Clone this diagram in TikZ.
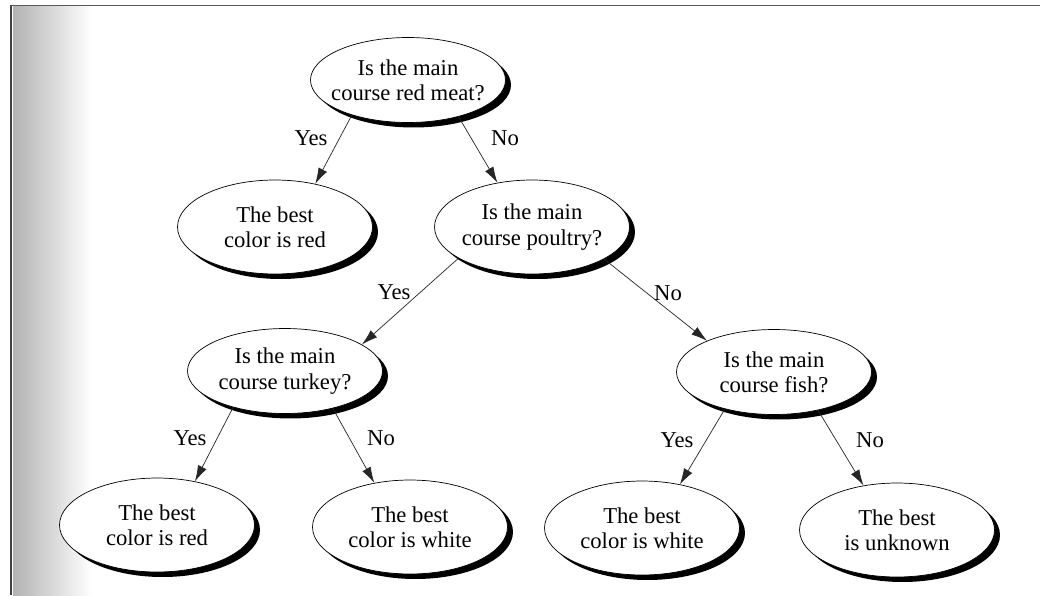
\documentclass[tikz,border=0pt]{standalone}
\usepackage{fontspec}
\setmainfont{Liberation Serif}
\usetikzlibrary{shapes.geometric,shadows,arrows.meta}

\begin{document}
\begin{tikzpicture}[x=0.02cm,y=-0.02cm,
  choice/.style={ellipse,draw,thin,fill=white,inner xsep=-0.2cm,inner ysep=0pt,
    minimum width=3.9cm,minimum height=1.88cm,align=center,
    font=\fontsize{12.9}{14.4}\selectfont,
    drop shadow={shadow xshift=0.11cm,shadow yshift=-0.1cm,fill=black,opacity=1}},
  flat/.style={minimum height=1.7cm},
  arr/.style={-{Latex[length=3.2mm,width=1.9mm]},black!85,thin},
  lbl/.style={font=\fontsize{12.9}{14.4}\selectfont}]
 \useasboundingbox (0,0) rectangle (1040,595);
 % scanned page edge
 \fill[white] (0,0) rectangle (1040,595);
 \shade[left color=gray!60,right color=white] (13,5) rectangle (92,595);
 \draw[black!75,line width=1.2pt] (11,5) -- (11,595);
 \draw[black!65,thin] (11,5) -- (1040,5);
 % questions and answers
 \node[choice,flat] (meat) at (408,80) {Is the main\\course red meat?};
 \node[choice] (red1) at (275,227) {The best\\color is red};
 \node[choice] (poultry) at (532,227) {Is the main\\course poultry?};
 \node[choice,flat] (turkey) at (285,371) {Is the main\\course turkey?};
 \node[choice,flat] (fish) at (774,372) {Is the main\\course fish?};
 \node[choice] (red2) at (157,525) {The best\\color is red};
 \node[choice] (white1) at (410,527) {The best\\color is white};
 \node[choice] (white2) at (642,528) {The best\\color is white};
 \node[choice] (unknown) at (897,530) {The best\\is unknown};
 % branches
 \draw[arr] (meat.212) -- (red1.47);
 \draw[arr] (meat.324) -- (poultry.128);
 \draw[arr] (poultry.203) -- (turkey.19);
 \draw[arr] (poultry.336) -- (fish.155);
 \draw[arr] (turkey.215) -- (red2.49);
 \draw[arr] (turkey.322) -- (white1.129);
 \draw[arr] (fish.217) -- (white2.49);
 \draw[arr] (fish.319) -- (unknown.127);
 % answers on the branches
 \node[lbl] (yes1) at (311,138) {Yes};
 \node[lbl] (no1) at (505,138) {No};
 \node[lbl] (yes2) at (394,292) {Yes};
 \node[lbl] (no2) at (668,293) {No};
 \node[lbl] (yes3) at (190,438) {Yes};
 \node[lbl] (no3) at (381,438) {No};
 \node[lbl] (yes4) at (677,440) {Yes};
 \node[lbl] (no4) at (870,440) {No};
\end{tikzpicture}
\end{document}
